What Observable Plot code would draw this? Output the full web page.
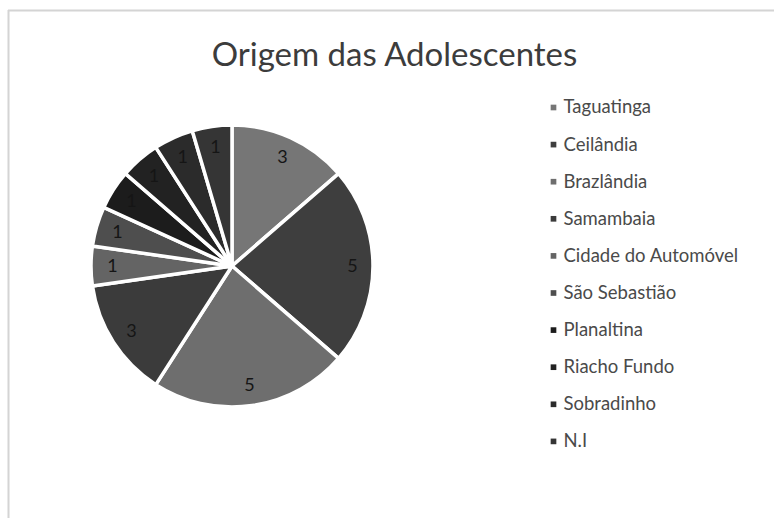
<!DOCTYPE html>
<html>
<head>
<meta charset="utf-8">
<script src="https://cdn.jsdelivr.net/npm/d3@7"></script>
<script src="https://cdn.jsdelivr.net/npm/@observablehq/plot@0.6"></script>
<style>
  html, body { margin: 0; padding: 0; background: #fff; }
  #chart svg { display: block; }
</style>
</head>
<body>
<div id="chart"></div>
<script>
// ---- data ----
const title = "Origem das Adolescentes";
const categories = ["Taguatinga", "Ceilândia", "Brazlândia", "Samambaia", "Cidade do Automóvel",
  "São Sebastião", "Planaltina", "Riacho Fundo", "Sobradinho", "N.I"];
const counts = [3, 5, 5, 3, 1, 1, 1, 1, 1, 1];
const grays = ["#767676", "#3e3e3e", "#6e6e6e", "#3b3b3b", "#646464",
  "#4e4e4e", "#1c1c1c", "#222222", "#2b2b2b", "#353535"];

// ---- layout ----
const W = 774, H = 518;
const cx = 232, cy = 266, R = 141, labelR = 120;
const legendX = 553, legendTextX = 563, legendY0 = 107, legendStep = 37.1;

const rows = categories.map((name, i) => ({name, value: counts[i], i}));
const arcs = d3.pie().sort(null).value(d => d.value)(rows);
const labels = arcs.map(a => {
  const mid = (a.startAngle + a.endAngle) / 2;
  return {name: a.data.name, value: a.data.value,
    x: cx + labelR * Math.sin(mid), y: cy - labelR * Math.cos(mid)};
});

const pieMark = (index, scales, values, dimensions, context) => {
  const g = d3.create("svg:g")
    .attr("transform", `translate(${scales.x(cx)},${scales.y(cy)})`);
  const arcGen = d3.arc().innerRadius(0).outerRadius(scales.x(cx + R) - scales.x(cx));
  g.selectAll("path").data(arcs).join("path")
    .attr("d", arcGen)
    .attr("fill", d => scales.color(d.data.name))
    .attr("stroke", "#fff")
    .attr("stroke-width", 3.5)
    .attr("stroke-linejoin", "round");
  return g.node();
};

const chart = Plot.plot({
  width: W, height: H, margin: 0,
  x: {domain: [0, W], range: [0, W], axis: null},
  y: {domain: [0, H], range: [0, H], axis: null},
  color: {type: "ordinal", domain: categories, range: grays},
  style: {background: "#fff"},
  marks: [
    // frame lines (top and left edges of the chart area)
    Plot.ruleY([10], {x1: 8, x2: W, stroke: "#d4d4d4", strokeWidth: 2}),
    Plot.ruleX([8], {y1: 10, y2: H, stroke: "#d4d4d4", strokeWidth: 2}),
    // pie slices
    pieMark,
    // slice labels
    Plot.text(labels, {x: "x", y: "y", text: d => String(d.value), fill: "#151515",
      fontSize: 18, fontFamily: "Lato, sans-serif"}),
    // title
    Plot.text([title], {x: 394, y: 55, text: d => d, fill: "#3c3c3c",
      fontSize: 33, fontFamily: "Lato, sans-serif"}),
    // legend
    Plot.dot(rows, {x: legendX, y: d => legendY0 + d.i * legendStep, fill: "name",
      symbol: "square", r: 3.2}),
    Plot.text(rows, {x: legendTextX, y: d => legendY0 + d.i * legendStep, text: "name",
      textAnchor: "start", fill: "#4a4a4a", fontSize: 18.5, fontFamily: "Lato, sans-serif"})
  ]
});
document.getElementById("chart").appendChild(chart);
</script>
</body>
</html>
